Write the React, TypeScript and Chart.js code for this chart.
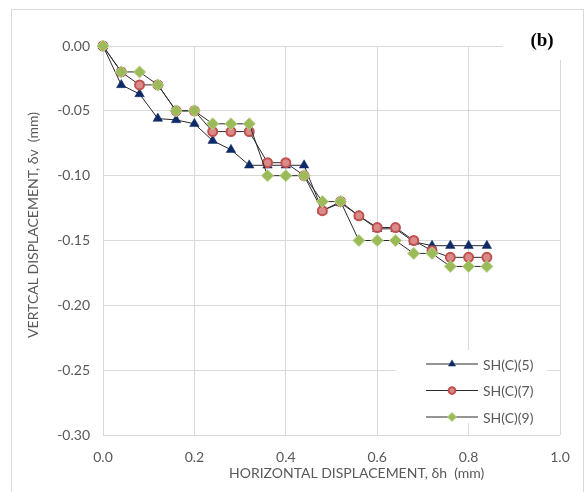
import React, { useEffect, useRef } from "react";
import { Chart, registerables } from "chart.js";

Chart.register(...registerables);

const xValues = [0, 0.04, 0.08, 0.12, 0.16, 0.2, 0.24, 0.28, 0.32, 0.36, 0.4, 0.44, 0.48, 0.52, 0.56, 0.6, 0.64, 0.68, 0.72, 0.76, 0.8, 0.84];
const sh5 = [0, -0.03, -0.037, -0.056, -0.057, -0.06, -0.073, -0.08, -0.092, -0.092, -0.092, -0.092, -0.127, -0.121, -0.131, -0.141, -0.141, -0.151, -0.154, -0.154, -0.154, -0.154];
const sh7 = [0, -0.02, -0.03, -0.03, -0.05, -0.05, -0.066, -0.066, -0.066, -0.09, -0.09, -0.1, -0.127, -0.12, -0.131, -0.14, -0.14, -0.15, -0.158, -0.163, -0.163, -0.163];
const sh9 = [0, -0.02, -0.02, -0.03, -0.05, -0.05, -0.06, -0.06, -0.06, -0.1, -0.1, -0.1, -0.12, -0.12, -0.15, -0.15, -0.15, -0.16, -0.16, -0.17, -0.17, -0.17];
const seriesNames = ["SH(C)(5)", "SH(C)(7)", "SH(C)(9)"];
const xTitle = "HORIZONTAL DISPLACEMENT, \u03B4h  (mm)";
const yTitle = "VERTCAL DISPLACEMENT, \u03B4v  (mm)";
const panelLabel = "(b)";

const FONT = "Lato, 'Open Sans', sans-serif";
const TEXT = "#595959";
const GRID = "#d9d9d9";

function toPoints(ys: number[]) {
  return xValues.map((x, i) => ({ x, y: ys[i] }));
}

function drawMarker(ctx: CanvasRenderingContext2D, style: string, x: number, y: number, r: number, fill: string, stroke: string, bw: number) {
  ctx.save();
  ctx.beginPath();
  if (style === "triangle") {
    ctx.moveTo(x, y - r);
    ctx.lineTo(x + r * 0.866, y + r * 0.5);
    ctx.lineTo(x - r * 0.866, y + r * 0.5);
    ctx.closePath();
  } else if (style === "circle") {
    ctx.arc(x, y, r, 0, Math.PI * 2);
  } else {
    ctx.moveTo(x, y - r);
    ctx.lineTo(x + r, y);
    ctx.lineTo(x, y + r);
    ctx.lineTo(x - r, y);
    ctx.closePath();
  }
  ctx.fillStyle = fill;
  ctx.fill();
  if (bw > 0) {
    ctx.lineWidth = bw;
    ctx.strokeStyle = stroke;
    ctx.stroke();
  }
  ctx.restore();
}

const decorPlugin = {
  id: "decor",
  beforeDraw(chart: any) {
    const ctx = chart.ctx as CanvasRenderingContext2D;
    ctx.save();
    ctx.fillStyle = "#ffffff";
    ctx.fillRect(0, 0, chart.width, chart.height);
    ctx.strokeStyle = "#d9d9d9";
    ctx.lineWidth = 1;
    ctx.strokeRect(11.5, 9.5, 572, 500);
    ctx.restore();
  },
  afterDatasetsDraw(chart: any) {
    const ctx = chart.ctx as CanvasRenderingContext2D;
    const a = chart.chartArea;
    ctx.save();
    // panel label box
    ctx.fillStyle = "#ffffff";
    ctx.fillRect(a.right - 57, a.top - 20, 62, 34);
    ctx.fillStyle = "#000000";
    ctx.font = "bold 19px 'Liberation Serif', serif";
    ctx.textAlign = "center";
    ctx.textBaseline = "middle";
    ctx.fillText(panelLabel, a.right - 18, a.top - 5);

    // axis titles
    ctx.fillStyle = TEXT;
    ctx.font = `14px ${FONT}`;
    ctx.fillText(xTitle, a.left + (a.right - a.left) * 0.555, a.bottom + 38);
    ctx.save();
    ctx.translate(33, a.top + (a.bottom - a.top) * 0.46);
    ctx.rotate(-Math.PI / 2);
    ctx.fillText(yTitle, 0, 0);
    ctx.restore();

    // legend
    const lx = a.right - 165;
    const ly = a.bottom - 85;
    ctx.fillStyle = "#ffffff";
    ctx.fillRect(lx, ly, 152, 73);
    const ds = chart.data.datasets;
    ctx.textAlign = "left";
    ctx.textBaseline = "middle";
    ctx.font = `14px ${FONT}`;
    for (let i = 0; i < ds.length; i++) {
      const y = ly + 14 + i * 26.5;
      const x0 = lx + 31;
      ctx.strokeStyle = ds[i].borderColor;
      ctx.lineWidth = ds[i].borderWidth;
      ctx.beginPath();
      ctx.moveTo(x0, y);
      ctx.lineTo(x0 + 52, y);
      ctx.stroke();
      drawMarker(ctx, ds[i].pointStyle, x0 + 26, y, ds[i].pointRadius * 0.75, ds[i].pointBackgroundColor, ds[i].pointBorderColor, ds[i].pointBorderWidth);
      ctx.fillStyle = TEXT;
      ctx.fillText(seriesNames[i], x0 + 57, y + 1);
    }
    ctx.restore();
  },
};

export default function App() {
  const ref = useRef<HTMLCanvasElement | null>(null);
  useEffect(() => {
    if (!ref.current) return;
    const lineColor = "#2b2b2b";
    const chart = new Chart(ref.current, {
      type: "line",
      data: {
        datasets: [
          {
            label: seriesNames[0],
            data: toPoints(sh5),
            borderColor: lineColor,
            borderWidth: 1,
            pointStyle: "triangle",
            pointRadius: 5.5,
            pointBackgroundColor: "#0f2a66",
            pointBorderColor: "#0f2a66",
            pointBorderWidth: 0.5,
            order: 2,
            clip: false,
          },
          {
            label: seriesNames[1],
            data: toPoints(sh7),
            borderColor: lineColor,
            borderWidth: 1,
            pointStyle: "circle",
            pointRadius: 4.5,
            pointBackgroundColor: "#d98b89",
            pointBorderColor: "#c0504d",
            pointBorderWidth: 2,
            order: 1,
            clip: false,
          },
          {
            label: seriesNames[2],
            data: toPoints(sh9),
            borderColor: lineColor,
            borderWidth: 1,
            pointStyle: "rectRot",
            pointRadius: 6,
            pointBackgroundColor: "#9bbb59",
            pointBorderColor: "#b9d18a",
            pointBorderWidth: 1,
            order: 0,
            clip: false,
          },
        ] as any,
      },
      options: {
        animation: false,
        responsive: false,
        devicePixelRatio: 1,
        layout: { padding: { left: 0, top: 46, right: 28, bottom: 0 } },
        plugins: { legend: { display: false }, tooltip: { enabled: false }, title: { display: false } },
        elements: { line: { tension: 0 } },
        scales: {
          x: {
            type: "linear",
            min: 0,
            max: 1,
            ticks: {
              stepSize: 0.2,
              color: TEXT,
              font: { family: FONT, size: 14 },
              padding: 14,
              maxRotation: 0,
              callback: (v: any) => Number(v).toFixed(1),
            },
            grid: { color: GRID, lineWidth: 1, drawTicks: false },
            border: { display: false },
            afterFit: (s: any) => {
              s.height = 57;
              s.paddingLeft = 0;
              s.paddingRight = 0;
            },
          },
          y: {
            type: "linear",
            min: -0.3,
            max: 0,
            ticks: {
              stepSize: 0.05,
              color: TEXT,
              font: { family: FONT, size: 14 },
              padding: 13,
              callback: (v: any) => Number(v).toFixed(2),
            },
            grid: { color: GRID, lineWidth: 1, drawTicks: false },
            border: { display: false },
            afterFit: (s: any) => {
              s.width = 103;
              s.paddingTop = 0;
              s.paddingBottom = 0;
            },
          },
        },
      } as any,
      plugins: [decorPlugin],
    });
    return () => chart.destroy();
  }, []);
  return (
    <div style={{ position: "absolute", left: 0, top: 0, width: 588, height: 492 }}>
      <canvas ref={ref} width={588} height={492} style={{ display: "block" }} />
    </div>
  );
}
